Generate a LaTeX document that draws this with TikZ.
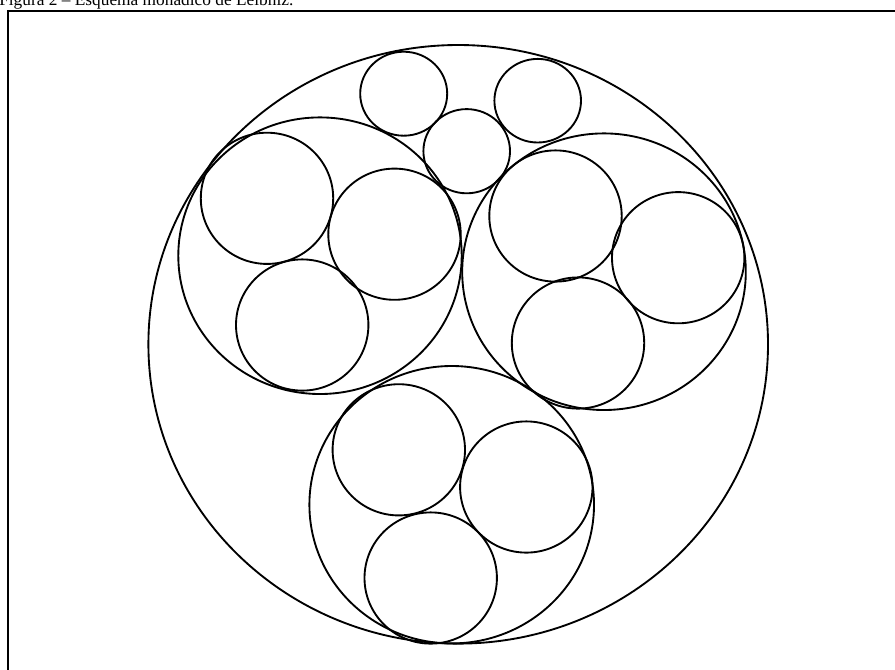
\documentclass[tikz,border=0pt]{standalone}
\usepackage{fontspec}
\setmainfont{Liberation Serif}
\begin{document}
\begin{tikzpicture}[x=0.75pt,y=-0.75pt,
  frameline/.style={line width=1.2pt},
  ring/.style={line width=1.4pt}]
\useasboundingbox (0,0) rectangle (895,669);
\node[anchor=base west,inner sep=0pt,font=\fontsize{13}{15}\selectfont] (title) at (-1,5) {Figura 2 -- Esquema monádico de Leibniz.};
\draw[frameline] (8,900) -- (8,11) -- (1000,11);
% big circle
\draw[ring] (458.2,344.3) ellipse [x radius=309.8, y radius=299.3];
% medium circles
\draw[ring] (320,255.7) ellipse [x radius=141.7, y radius=138.3];
\draw[ring] (604,271.7) ellipse [x radius=141.8, y radius=138.3];
\draw[ring] (451.7,504.7) ellipse [x radius=142.3, y radius=138.7];
% small top circles
\draw[ring] (403.7,93.7) ellipse [x radius=43.5, y radius=42];
\draw[ring] (466.7,151.2) ellipse [x radius=43.3, y radius=42.1];
\draw[ring] (537.7,100.7) ellipse [x radius=43.3, y radius=41.8];
% left group
\draw[ring] (267,198.3) ellipse [x radius=66.2, y radius=65.6];
\draw[ring] (394.5,234.2) ellipse [x radius=66.2, y radius=65.6];
\draw[ring] (302.2,325) ellipse [x radius=66.2, y radius=65.6];
% right group
\draw[ring] (555.5,216) ellipse [x radius=66.2, y radius=65.6];
\draw[ring] (678.2,257.7) ellipse [x radius=66.2, y radius=65.6];
\draw[ring] (578,343) ellipse [x radius=66.2, y radius=65.6];
% bottom group
\draw[ring] (398.8,449.8) ellipse [x radius=66.2, y radius=65.6];
\draw[ring] (526.3,487) ellipse [x radius=66.2, y radius=65.6];
\draw[ring] (430.7,578) ellipse [x radius=66.2, y radius=65.6];
\end{tikzpicture}
\end{document}
